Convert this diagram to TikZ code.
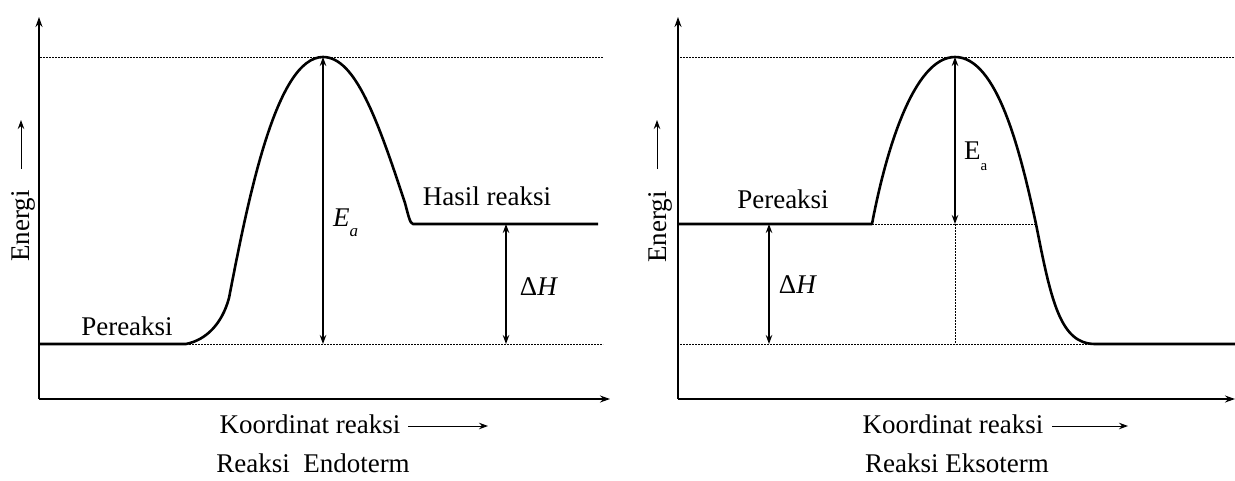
\documentclass[tikz,border=0pt]{standalone}
\usepackage{fontspec}
\setmainfont{Liberation Serif}
\usetikzlibrary{arrows.meta,positioning}

\begin{document}
\begin{tikzpicture}[x=1pt, y=-1pt, >={Stealth[length=9pt,width=6.5pt]},
	font=\fontsize{27}{32}\selectfont,
	kurva/.style={line width=2.6pt, line join=round},
	sumbu/.style={->, line width=1.3pt, >={Stealth[length=10pt,width=7pt]}},
	titik/.style={line width=1pt, dash pattern=on 1.6pt off 1.4pt},
	panah/.style={<->, line width=1.1pt}]
		\useasboundingbox (0,0) rectangle (1235,480);

		% reaksi endoterm
		\coordinate (o1) at (39,399);
		\coordinate (y1) at (39,17);
		\coordinate (x1) at (610,399);
		\coordinate (r1) at (40,344);
		\coordinate (r1e) at (186,344);
		\coordinate (p1) at (323,57);
		\coordinate (h1) at (413,224);
		\coordinate (h1e) at (598,224);
		\coordinate (t1a) at (40,57);
		\coordinate (t1b) at (603,57);
		\coordinate (b1) at (603,344);
		\coordinate (ea1) at (323,344);
		\coordinate (dh1t) at (506,224);
		\coordinate (dh1b) at (506,344);
		\coordinate (en1a) at (21,169);
		\coordinate (en1b) at (21,120);
		\coordinate (k1a) at (408,426);
		\coordinate (k1b) at (488,426);

		\draw[sumbu] (o1) -- (y1);
		\draw[sumbu] (o1) -- (x1);
		\draw[titik] (t1a) -- (t1b);
		\draw[titik] (r1e) -- (b1);
		\draw[kurva] (r1) -- (r1e) .. controls (206,340) and (222,324) .. (229,298)
			.. controls (248,200) and (276,57) .. (p1)
			.. controls (355,57) and (377,118) .. (405,203)
			.. controls (408,214) and (410,224) .. (h1) -- (h1e);
		\path
			(p1) edge[panah] (ea1)
			(dh1t) edge[panah] (dh1b)
			(en1a) edge[->, line width=1pt] (en1b)
			(k1a) edge[->, line width=1pt] (k1b);

		\node[anchor=base] (pr1) at (127,335) {Pereaksi};
		\node[anchor=base] (hs1) at (487,205) {Hasil reaksi};
		\node[anchor=base west, inner sep=0pt] (ea1l) at (333,226) {\itshape E\raisebox{-10pt}{\fontsize{17}{17}\selectfont\itshape a}};
		\node[anchor=base] (dh1l) at (539,295) {Δ\textit{H}};
		\node[rotate=90, anchor=base] (en1) at (30,226) {Energi};
		\node[anchor=base] (ko1) at (310,433) {Koordinat reaksi};
		\node[anchor=base] (rx1) at (313,472) {Reaksi\ \ Endoterm};

		% reaksi eksoterm
		\coordinate (o2) at (678,399);
		\coordinate (y2) at (678,17);
		\coordinate (x2) at (1235,399);
		\coordinate (r2) at (678,224);
		\coordinate (r2e) at (872,224);
		\coordinate (p2) at (955,57);
		\coordinate (h2) at (1095,344);
		\coordinate (h2e) at (1235,344);
		\coordinate (t2a) at (680,57);
		\coordinate (t2b) at (1235,57);
		\coordinate (m2) at (1036,224);
		\coordinate (b2) at (680,344);
		\coordinate (ea2t) at (955,57);
		\coordinate (ea2b) at (955,224);
		\coordinate (v2) at (955,344);
		\coordinate (dh2t) at (769,224);
		\coordinate (dh2b) at (769,344);
		\coordinate (en2a) at (657,169);
		\coordinate (en2b) at (657,120);
		\coordinate (k2a) at (1052,426);
		\coordinate (k2b) at (1128,426);

		\draw[sumbu] (o2) -- (y2);
		\draw[sumbu] (o2) -- (x2);
		\draw[titik] (t2a) -- (t2b);
		\draw[titik] (r2e) -- (m2);
		\draw[titik] (b2) -- (h2);
		\draw[titik] (ea2b) -- (v2);
		\draw[kurva] (r2) -- (r2e) .. controls (886,150) and (914,57) .. (p2)
			.. controls (997,57) and (1020,150) .. (m2)
			.. controls (1051,300) and (1060,344) .. (h2) -- (h2e);
		\path
			(ea2t) edge[panah] (ea2b)
			(dh2t) edge[panah] (dh2b)
			(en2a) edge[->, line width=1pt] (en2b)
			(k2a) edge[->, line width=1pt] (k2b);

		\node[anchor=base] (pr2) at (783,208) {Pereaksi};
		\node[anchor=base west, inner sep=0pt] (ea2l) at (964,159) {E\raisebox{-11pt}{\fontsize{15}{15}\selectfont a}};
		\node[anchor=base] (dh2l) at (798,293) {Δ\textit{H}};
		\node[rotate=90, anchor=base] (en2) at (666,227) {Energi};
		\node[anchor=base] (ko2) at (953,433) {Koordinat reaksi};
		\node[anchor=base] (rx2) at (957,472) {Reaksi Eksoterm};
	\end{tikzpicture}
\end{document}
